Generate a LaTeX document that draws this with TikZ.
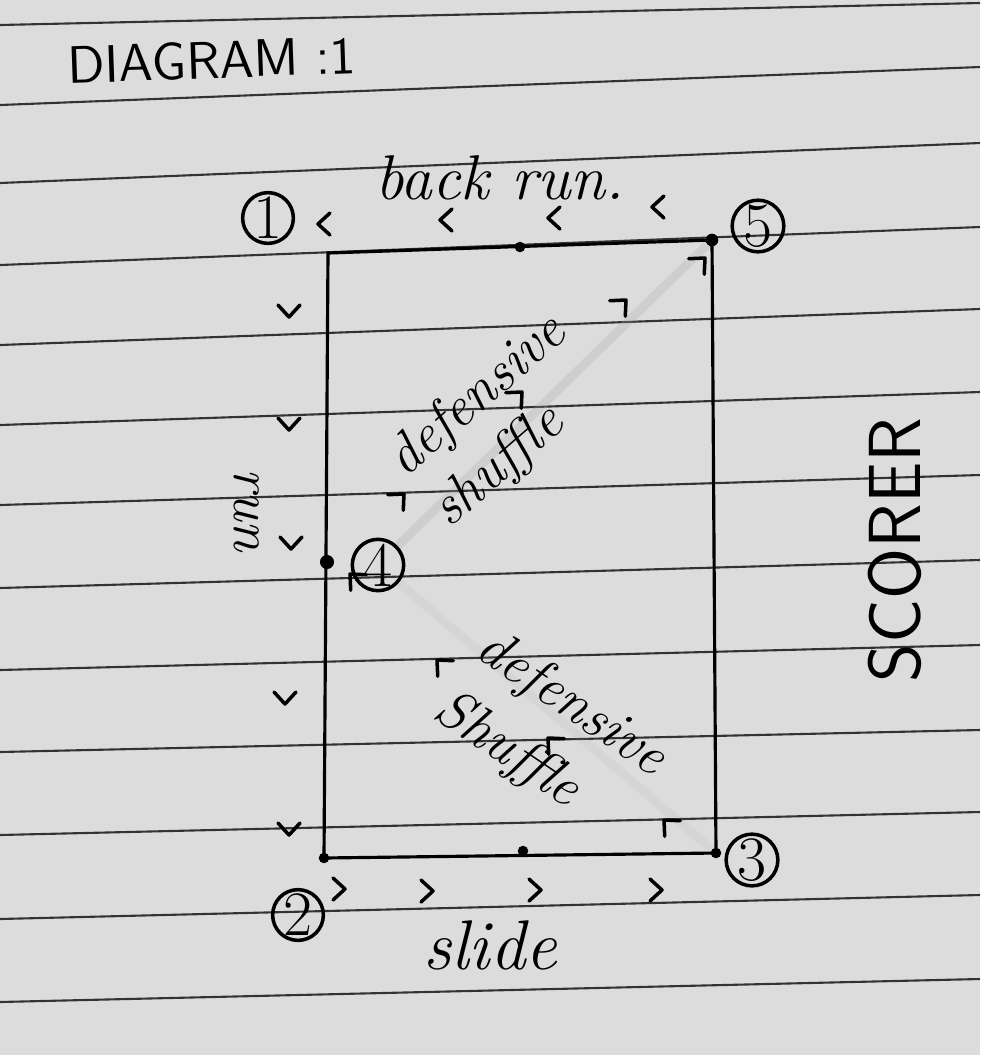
\documentclass[tikz,border=0pt]{standalone}
\usepackage{fontspec}
\usetikzlibrary{positioning}

\definecolor{paper}{HTML}{DCDCDC}
\tikzset{
  spot/.style={draw, line width=1pt, circle, inner sep=0pt, minimum size=4.9mm, font=\fontsize{18}{18}\selectfont},
  hand/.style={font=\fontsize{16}{19}\selectfont\itshape},
  caps/.style={font=\fontsize{15}{18}\selectfont\sffamily},
  ruled/.style={black!80, line width=0.6pt},
  tip/.pic={\draw[line width=1pt, line cap=round, line join=round] (-12,-11) -- (0,0) -- (-12,11);}
}

\begin{document}
\begin{tikzpicture}[x=0.1mm, y=-0.1mm]
    \fill[paper] (0,0) rectangle (980,1055);
    \useasboundingbox (0,0) rectangle (980,1055);

    % ruled paper
    \foreach \l/\r in {25/3, 105/67, 183/143, 265/227, 345/309, 425/392, 505/475,
                       588/560, 670/645, 752/730, 835/812, 919/895, 1002/979}
        \draw[ruled] (0,\l) -- (980,\r);

    % field corners
    \coordinate (c1) at (328,253);
    \coordinate (c5) at (712,240);
    \coordinate (c3) at (716,853);
    \coordinate (c2) at (324,858);
    \coordinate (c4) at (327,562);

    \node[spot] (p1) at (268,218) {1};
    \node[spot] (p5) at (758,226) {5};
    \node[spot] (p4) at (378,565) {4};
    \node[spot] (p2) at (298,915) {2};
    \node[spot] (p3) at (752,860) {3};

    % faint pencil lines
    \draw[gray!70, line width=2.5pt, opacity=0.25] (p4) -- (c5);
    \draw[gray!70, line width=2.5pt, opacity=0.12] (c3) -- (p4);

    \draw[line width=0.9pt] (c1) -- (c5) -- (c3) -- (c2) -- cycle;
    \fill (c5) circle (1.8pt);
    \fill (c3) circle (1.5pt);
    \fill (c2) circle (1.5pt);
    \fill (c4) circle (2pt);
    \fill (520,247) circle (1.5pt);
    \fill (523,851) circle (1.5pt);

    % texts
    \node[caps, rotate=2] (title) at (212,60) {DIAGRAM :1};
    \node[hand, font=\fontsize{18}{21}\selectfont\itshape] (back) at (500,178) {back run.};
    \node[hand, rotate=-90] (run) at (247,510) {run};
    \node[hand, rotate=41, align=left] (def1) at (500,422) {defensive\\shuffle};
    \node[hand, rotate=-34, align=left, font=\fontsize{16}{21}\selectfont\itshape] (def2) at (550,735) {defensive\\Shuffle};
    \node[caps, rotate=90, font=\fontsize{21}{24}\selectfont\sffamily] (scorer) at (895,550) {SCORER};
    \node[hand, font=\fontsize{20}{23}\selectfont\itshape] (slide) at (490,945) {slide};

    % direction marks
    \foreach \p in {(318,224), (440,220), (548,218), (652,207)}
        \pic[rotate=180] at \p {tip};
    \foreach \p in {(289,317), (289,430), (291,549), (285,704), (289,835)}
        \pic[rotate=-90] at \p {tip};
    \foreach \p in {(345,889), (433,891), (541,890), (662,890)}
        \pic at \p {tip};
    \foreach \p in {(404,494), (522,392), (626,300), (705,258)}
        \pic[rotate=45] at \p {tip};
    \foreach \p in {(437,660), (548,738), (664,820), (350,574)}
        \pic[rotate=135] at \p {tip};
\end{tikzpicture}
\end{document}
